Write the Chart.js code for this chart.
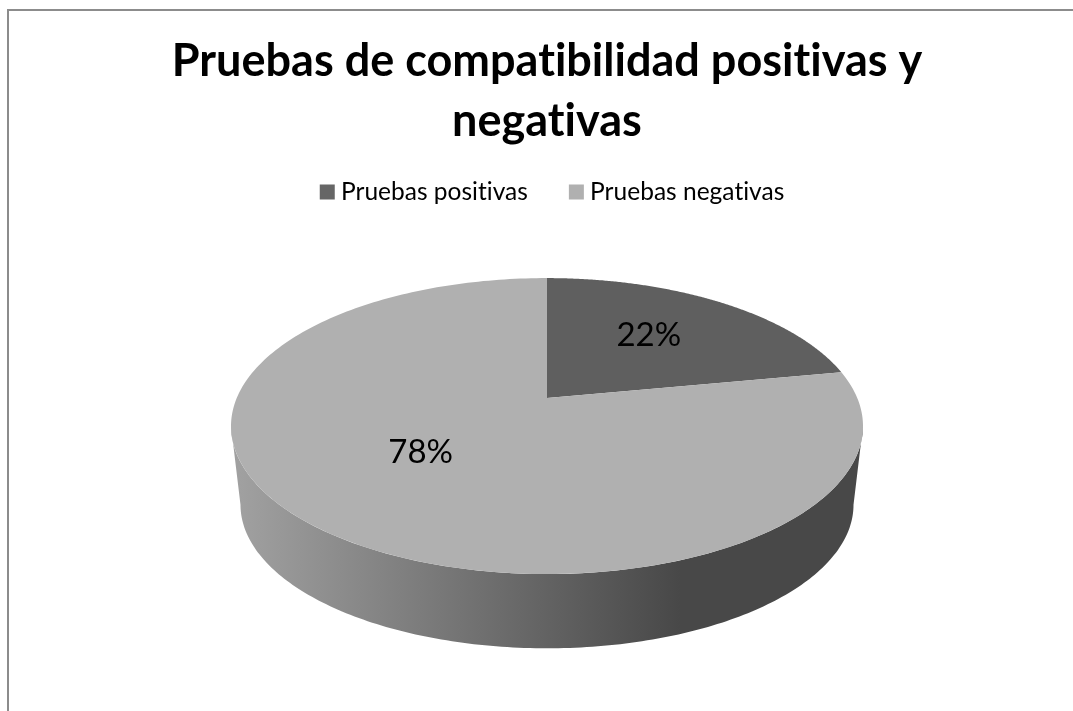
<!DOCTYPE html>
<html>
<head>
<meta charset="utf-8">
<title>Pruebas de compatibilidad</title>
<script src="https://cdn.jsdelivr.net/npm/chart.js@4"></script>
<style>
    html, body { margin: 0; padding: 0; background: #ffffff; overflow: hidden; }
    #frame { position: absolute; left: 7px; top: 9px; width: 1066px; height: 702px; border-left: 2px solid #8c8c8c; border-top: 2px solid #8c8c8c; box-sizing: border-box; }
    canvas { position: absolute; left: 0; top: 0; }
</style>
</head>
<body>
<div id="frame"></div>
<canvas id="pieChart" width="1073" height="711"></canvas>
<script>
// Chart data
const titleLines = ['Pruebas de compatibilidad positivas y', 'negativas'];
const categories = ['Pruebas positivas', 'Pruebas negativas'];
const percentValues = [22, 78];
const legendColors = ['#666666', '#b0b0b0'];
const faceColors = ['#5f5f5f', '#b0b0b0'];

// 3D look: a circle seen through a small perspective
const PIE_WIDTH = 310.3;
const PIE_HEIGHT = 142.7;
const PERSPECTIVE = 0.189;
const BOTTOM_SCALE = 0.97;
const BOTTOM_SHIFT = 79.5;
const LABEL_RADIUS = 0.58;
const LABEL_LIFT = [4, 15];
const LEGEND_SHIFT = 8;

function project(arc, angle, scale = 1, shift = 0) {
    const nx = Math.cos(angle);
    const ny = Math.sin(angle);
    const d = 1 - PERSPECTIVE * ny;
    return {
        x: arc.x + scale * PIE_WIDTH * nx / d,
        y: arc.y + scale * PIE_HEIGHT * ny / d + shift
    };
}

function projectInner(arc, angle, f) {
    const nx = Math.cos(angle) * f;
    const ny = Math.sin(angle) * f;
    const d = 1 - PERSPECTIVE * ny;
    return { x: arc.x + PIE_WIDTH * nx / d, y: arc.y + PIE_HEIGHT * ny / d };
}

function drawSide(ctx, arc) {
    // visible wall runs between the two widest points of the rim
    const edge = Math.asin(PERSPECTIVE);
    const steps = 180;
    const from = edge;
    const to = Math.PI - edge;

    const grad = ctx.createLinearGradient(240, 0, 680, 0);
    grad.addColorStop(0, '#a0a0a0');
    grad.addColorStop(1, '#484848');

    ctx.beginPath();
    for (let i = 0; i <= steps; i++) {
        const p = project(arc, from + (to - from) * i / steps);
        if (i === 0) ctx.moveTo(p.x, p.y); else ctx.lineTo(p.x, p.y);
    }
    for (let i = steps; i >= 0; i--) {
        const p = project(arc, from + (to - from) * i / steps, BOTTOM_SCALE, BOTTOM_SHIFT);
        ctx.lineTo(p.x, p.y);
    }
    ctx.closePath();
    ctx.fillStyle = grad;
    ctx.fill();
}

function drawFace(ctx, arc, color) {
    const steps = 240;
    ctx.beginPath();
    ctx.moveTo(arc.x, arc.y);
    for (let i = 0; i <= steps; i++) {
        const p = project(arc, arc.startAngle + (arc.endAngle - arc.startAngle) * i / steps);
        ctx.lineTo(p.x, p.y);
    }
    ctx.closePath();
    ctx.fillStyle = color;
    ctx.fill();
}

// Lato joins "ti" into a ligature, a tiny letter spacing turns that off
const noLigatures = {
    id: 'noLigatures',
    beforeLayout(chart) { chart.ctx.letterSpacing = '0.01px'; },
    beforeDraw(chart) { chart.ctx.letterSpacing = '0.01px'; }
};

// Legend sits a little right of the title's center
const legendNudge = {
    id: 'legendNudge',
    afterLayout(chart) {
        chart.legend.left += LEGEND_SHIFT;
        chart.legend.right += LEGEND_SHIFT;
    }
};

// Replaces the flat pie with the tilted one, using the arcs the library computed
const pie3d = {
    id: 'pie3d',
    beforeDatasetsDraw(chart) {
        const ctx = chart.ctx;
        const arcs = chart.getDatasetMeta(0).data;
        ctx.save();
        drawSide(ctx, arcs[0]);
        arcs.forEach((arc, i) => drawFace(ctx, arc, faceColors[i]));

        ctx.fillStyle = '#000000';
        ctx.font = '33px Lato';
        ctx.textAlign = 'center';
        ctx.textBaseline = 'middle';
        arcs.forEach((arc, i) => {
            const mid = (arc.startAngle + arc.endAngle) / 2;
            const p = projectInner(arc, mid, LABEL_RADIUS);
            ctx.fillText(percentValues[i] + '%', p.x - (i === 0 ? 4 : 1), p.y - LABEL_LIFT[i]);
        });
        ctx.restore();
        return false;
    }
};

// Init chart
const pieCtx = document.getElementById('pieChart');
new Chart(pieCtx, {
    type: 'pie',
    data: {
        labels: categories,
        datasets: [{
            data: percentValues,
            backgroundColor: legendColors,
            borderWidth: 0
        }]
    },
    options: {
        responsive: false,
        animation: false,
        layout: {
            padding: { left: 21, bottom: 129 }
        },
        plugins: {
            title: {
                display: true,
                text: titleLines,
                color: '#000000',
                font: { family: 'Lato', size: 45, weight: 'bold', lineHeight: 1.33 },
                padding: { top: 32, bottom: -19 }
            },
            legend: {
                position: 'top',
                labels: {
                    color: '#000000',
                    font: { family: 'Lato', size: 24.5 },
                    usePointStyle: true,
                    pointStyle: 'rect',
                    boxWidth: 3,
                    boxHeight: 15,
                    padding: 47
                }
            },
            tooltip: { enabled: false }
        }
    },
    plugins: [noLigatures, legendNudge, pie3d]
});
</script>
</body>
</html>
